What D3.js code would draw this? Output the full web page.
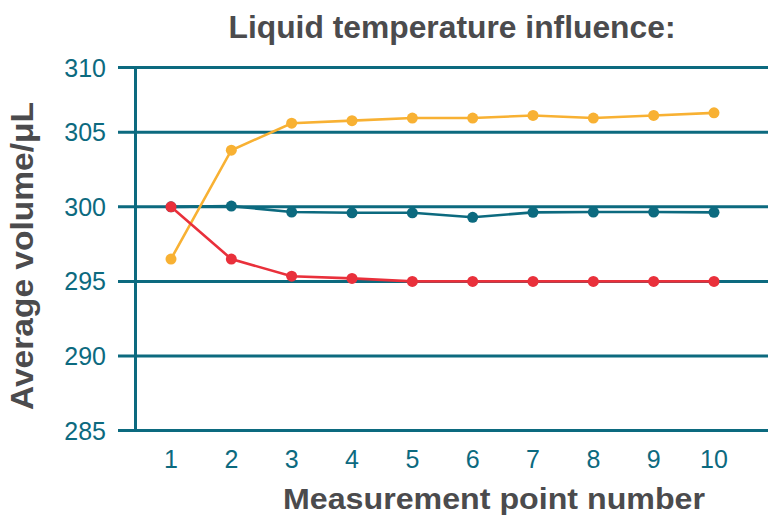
<!DOCTYPE html>
<html><head><meta charset="utf-8">
<script src="https://cdn.jsdelivr.net/npm/d3@7"></script>
<style>body{margin:0;background:#fff}svg{display:block}</style>
</head><body>
<script>
const points = [1,2,3,4,5,6,7,8,9,10];
const orangeValues = [296.5,303.8,305.7,305.9,306.1,306.1,306.3,306.1,306.3,306.5];
const tealValues   = [300.0,300.05,299.65,299.6,299.6,299.3,299.63,299.65,299.65,299.63];
const redValues    = [300.0,296.5,295.35,295.2,295.0,295.0,295.0,295.0,295.0,295.0];
const yTicks = [285,290,295,300,305,310];
const title = "Liquid temperature influence:";
const xTitle = "Measurement point number";
const yTitle = "Average volume/μL";

const W=768,H=517;
const teal="#0c6a7f", orange="#f8b133", red="#e9303b", grey="#4b4b4d";
const svg=d3.select("body").append("svg").attr("width",W).attr("height",H);

const x=d3.scaleLinear().domain([1,10]).range([171,714]);
const y=d3.scaleLinear().domain([285,305,310]).range([430.5,132.3,67.5]);

// gridlines
svg.append("g").selectAll("line").data(yTicks).join("line")
  .attr("x1",118).attr("x2",W).attr("y1",d=>y(d)).attr("y2",d=>y(d))
  .attr("stroke",teal).attr("stroke-width",3);
// y axis line
svg.append("line").attr("x1",135.5).attr("x2",135.5).attr("y1",y(310)-1.5).attr("y2",y(285)+1.5)
  .attr("stroke",teal).attr("stroke-width",3);

// y tick labels
svg.append("g").selectAll("text").data(yTicks).join("text")
  .attr("x",106).attr("y",d=>y(d)+9).attr("text-anchor","end")
  .attr("font-family","Liberation Sans, Arial, sans-serif").attr("font-size",25)
  .attr("fill",teal).text(d=>d);
// x tick labels
svg.append("g").selectAll("text").data(points).join("text")
  .attr("x",d=>x(d)).attr("y",468).attr("text-anchor","middle")
  .attr("font-family","Liberation Sans, Arial, sans-serif").attr("font-size",25)
  .attr("fill",teal).text(d=>d);

const series=[{v:tealValues,c:teal},{v:orangeValues,c:orange},{v:redValues,c:red}];
const line=d3.line().x((d,i)=>x(points[i])).y(d=>y(d));
series.forEach(s=>{
  const g=svg.append("g");
  g.append("path").attr("d",line(s.v)).attr("fill","none").attr("stroke",s.c).attr("stroke-width",2.6);
  g.selectAll("circle").data(s.v).join("circle")
    .attr("cx",(d,i)=>x(points[i])).attr("cy",d=>y(d)).attr("r",5.5).attr("fill",s.c);
});

// titles
svg.append("text").attr("x",452).attr("y",38).attr("text-anchor","middle")
  .attr("font-family","Liberation Sans, Arial, sans-serif").attr("font-weight","bold")
  .attr("font-size",31).attr("fill",grey).attr("textLength",447).attr("lengthAdjust","spacingAndGlyphs").text(title);
svg.append("text").attr("x",494).attr("y",509).attr("text-anchor","middle")
  .attr("font-family","Liberation Sans, Arial, sans-serif").attr("font-weight","bold")
  .attr("font-size",30).attr("fill",grey).attr("textLength",422).attr("lengthAdjust","spacingAndGlyphs").text(xTitle);
svg.append("text").attr("transform","translate(33,256) rotate(-90)").attr("text-anchor","middle")
  .attr("font-family","Liberation Sans, Arial, sans-serif").attr("font-weight","bold")
  .attr("font-size",31).attr("fill",grey).attr("textLength",308).attr("lengthAdjust","spacingAndGlyphs").text(yTitle);
</script>
</body></html>
